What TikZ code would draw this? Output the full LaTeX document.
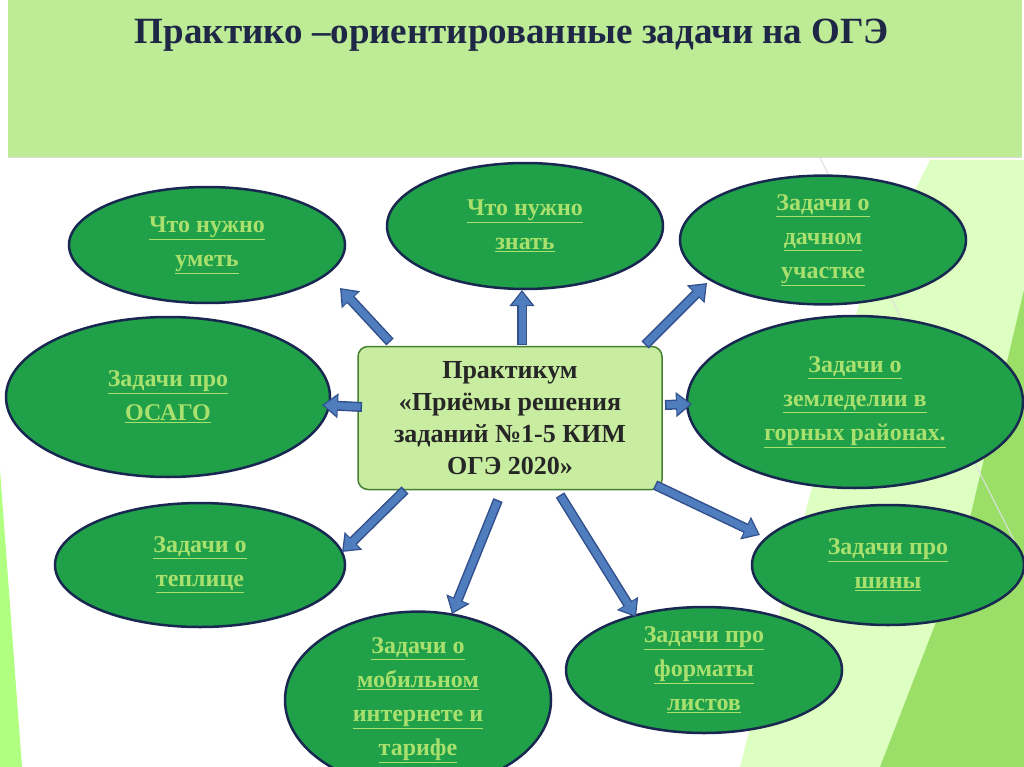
\documentclass[tikz,border=0pt]{standalone}
\usepackage{fontspec}
\setmainfont{Liberation Serif}
\usetikzlibrary{shapes.geometric,arrows.meta}
\definecolor{ellfill}{RGB}{32,160,72}
\definecolor{ellbord}{RGB}{25,40,80}
\definecolor{etext}{RGB}{170,225,110}
\definecolor{banner}{RGB}{190,235,150}
\definecolor{cfill}{RGB}{200,236,160}
\definecolor{cbord}{RGB}{70,130,50}
\definecolor{arrf}{RGB}{80,125,190}
\definecolor{arrb}{RGB}{50,80,140}
\definecolor{titlec}{RGB}{30,40,70}
\tikzset{
 ell/.style={ellipse,draw=ellbord,line width=2.5pt,fill=ellfill,text=etext,font=\bfseries\fontsize{24}{34}\selectfont,align=center,inner sep=0pt},
 barr/.style={line width=10pt,draw=arrb,-{Triangle[width=24pt,length=16pt]}},
 farr/.style={line width=7pt,draw=arrf,-{Triangle[width=19pt,length=13pt]},shorten <=1.5pt,shorten >=2pt},
}
\newcommand{\ul}[1]{\underline{#1}}
\begin{document}
\begin{tikzpicture}[x=1pt,y=-1pt]
\useasboundingbox (0,0) rectangle (1024,767);
\fill[white] (0,0) rectangle (1024,767);
% background decorations
\fill[green!40!lime!40!white,opacity=0.6] (930,160) -- (1024,160) -- (1024,767) -- (740,767) -- (860,300) -- cycle;
\fill[green!55!black!60!lime,opacity=0.45] (1024,290) -- (1024,767) -- (880,767) -- (960,560) -- cycle;
\draw[gray!25,line width=1pt] (820,158) -- (1024,560);
\fill[green!50!lime!70!white,opacity=0.7] (0,470) -- (22,767) -- (0,767) -- cycle;
% banner
\fill[banner] (8,0) rectangle (1022,157);
\draw[white!85!black,line width=0.8pt] (8,157) -- (1022,157);
\node[text=titlec,font=\bfseries\fontsize{37}{40}\selectfont] (title) at (512,35) {Практико –ориентированные задачи на ОГЭ};
% center
\node[draw=cbord,line width=1.5pt,fill=cfill,rounded corners=10pt,minimum width=304pt,minimum height=143pt,align=center,font=\bfseries\fontsize{26}{32}\selectfont,text=black!85] (c) at (510,418)
 {Практикум\\«Приёмы решения\\заданий №1-5 КИМ\\ОГЭ 2020»};
% ellipses
\node[ell,minimum width=276pt,minimum height=116pt] (e1) at (207,245) {\ul{Что нужно}\\\ul{уметь}};
\node[ell,minimum width=276pt,minimum height=126pt] (e2) at (525,226) {\ul{Что нужно}\\\ul{знать}};
\node[ell,minimum width=286pt,minimum height=116pt] (e3) at (823,240) {\ul{Задачи о}\\\ul{дачном}\\\ul{участке}};
\node[ell,minimum width=324pt,minimum height=160pt] (e4) at (168,397) {\ul{Задачи про}\\\ul{ОСАГО}};
\node[ell,minimum width=336pt,minimum height=172pt] (e5) at (855,402) {\ul{Задачи о}\\\ul{земледелии в}\\\ul{горных районах.}};
\node[ell,minimum width=290pt,minimum height=124pt] (e6) at (200,565) {\ul{Задачи о}\\\ul{теплице}};
\node[ell,minimum width=272pt,minimum height=120pt] (e7) at (888,565) {\ul{Задачи про}\\\ul{шины}};
\node[ell,minimum width=266pt,minimum height=154pt] (e8) at (418,700) {\ul{Задачи о}\\\ul{мобильном}\\\ul{интернете и}\\\ul{тарифе}};
\node[ell,minimum width=276pt,minimum height=126pt] (e9) at (704,670) {\ul{Задачи про}\\\ul{форматы}\\\ul{листов}};
% arrow endpoints
\coordinate (s1) at (390,342); \coordinate (t1) at (340,288);
\coordinate (s2) at (522,345); \coordinate (t2) at (522,290);
\coordinate (s3) at (645,345); \coordinate (t3) at (707,283);
\coordinate (s4) at (362,407); \coordinate (t4) at (322,405);
\coordinate (s5) at (665,405); \coordinate (t5) at (692,404);
\coordinate (s6) at (405,490); \coordinate (t6) at (342,552);
\coordinate (s7) at (498,500); \coordinate (t7) at (452,614);
\coordinate (s8) at (560,495); \coordinate (t8) at (636,617);
\coordinate (s9) at (655,485); \coordinate (t9) at (760,535);
\foreach \i in {1,...,9}{
 \draw[barr] (s\i) -- (t\i);
 \draw[farr] (s\i) -- (t\i);
}
\end{tikzpicture}
\end{document}
